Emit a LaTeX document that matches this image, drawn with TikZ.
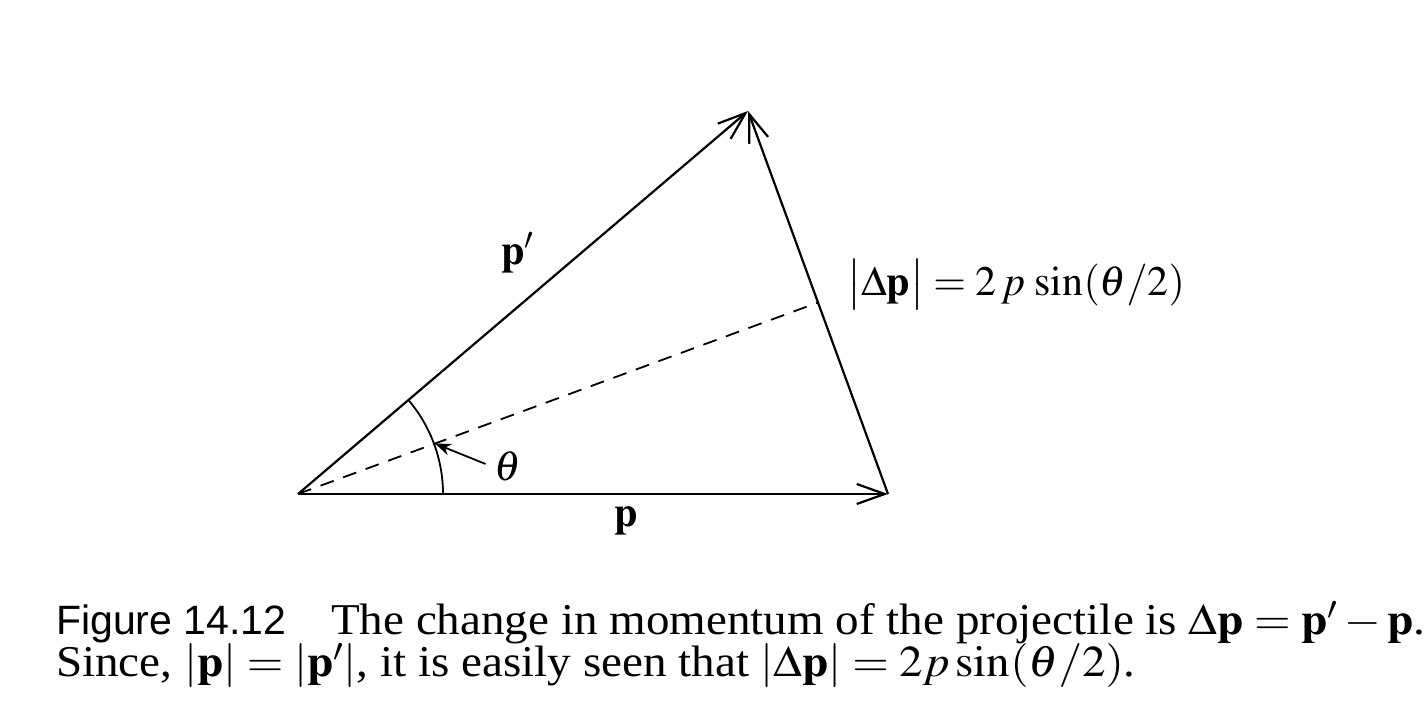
\documentclass[tikz,border=0pt]{standalone}
\usepackage{amsmath}
\usepackage{graphicx}
\usepackage{mathptmx}
\usepackage{fontspec}
\setmainfont{Liberation Serif}
\setsansfont{Liberation Sans}
\usetikzlibrary{arrows.meta}

\newcommand{\wide}[1]{\scalebox{1.07}[1]{#1}}

\begin{document}
\begin{tikzpicture}[x=0.5pt, y=0.5pt, line width=1.1pt,
    vec/.style={-{Straight Barb[length=14pt,width=10pt]}},
    lbl/.style={font=\fontsize{21}{25}\selectfont, inner sep=0pt},
    captext/.style={font=\fontsize{22}{26}\selectfont, inner sep=0pt, anchor=base west}]

    \useasboundingbox (0,0) rectangle (1428,727);

    % corners of the triangle
    \coordinate (O) at (298,233);
    \coordinate (P) at (888,233);
    \coordinate (Pp) at (748,616);
    \coordinate (M) at (818,424.5);

    % the two momenta and their difference
    \draw[vec] (O) -- (P);
    \draw[vec] (O) -- (Pp);
    \draw[vec] (P) -- (Pp);

    % bisector
    \draw[dash pattern=on 7pt off 5pt, line width=0.9pt] (O) -- (M);

    % angle
    \draw[line width=0.9pt] ([shift={(0:145)}]O) arc[start angle=0, end angle=40.4, radius=145];
    \coordinate (thtip) at ([shift={(20.2:146)}]O);

    % labels
    \node[lbl] (plbl) at (626,206) {$\mathbf{p}$};
    \node[lbl] (pplbl) at (518,474) {$\mathbf{p}'$};
    \node[lbl] (th) at (508,261) {$\theta$};
    \draw[line width=0.9pt, -{Stealth[length=8pt,width=6pt]}] (th.west) ++(-4pt,1pt) -- (thtip);
    \node[lbl, anchor=west] (dp) at (846,442) {$\bigl|\Delta\mathbf{p}\bigr| = 2\,p\,\sin(\theta/2)$};

    % caption
    \node[captext, font=\fontsize{20.5}{24}\selectfont\sffamily] (fig) at (55,92) {Figure 14.12};
    \node[captext] (cap1) at (330,92) {\wide{The change in momentum of the projectile is $\Delta\mathbf{p} = \mathbf{p}' - \mathbf{p}$.}};
    \node[captext] (cap2) at (55,50) {\wide{Since, $|\mathbf{p}| = |\mathbf{p}'|$, it is easily seen that $|\Delta\mathbf{p}| = 2p\sin(\theta/2)$.}};

\end{tikzpicture}
\end{document}
